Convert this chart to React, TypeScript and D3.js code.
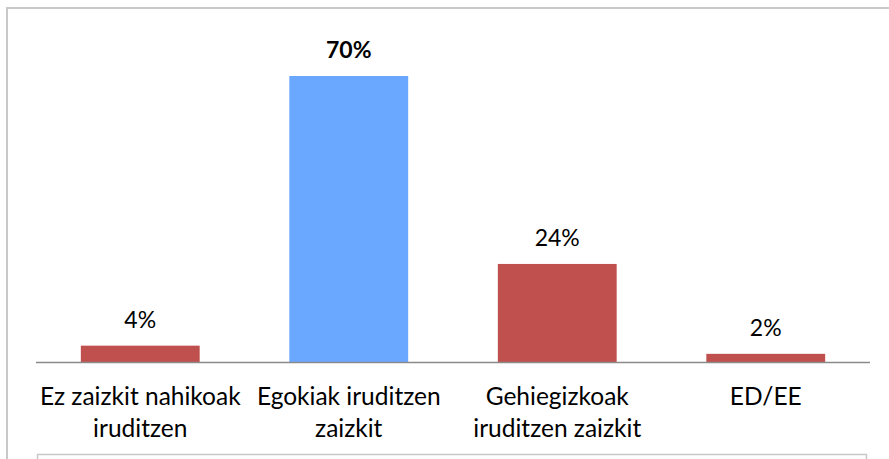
import React from "react";
import * as d3 from "d3";

const categories: string[][] = [
  ["Ez zaizkit nahikoak", "iruditzen"],
  ["Egokiak iruditzen", "zaizkit"],
  ["Gehiegizkoak", "iruditzen zaizkit"],
  ["ED/EE"],
];
const values: number[] = [4, 70, 24, 2];
const valueLabels: string[] = ["4%", "70%", "24%", "2%"];
const highlight: boolean[] = [false, true, false, false];

const W = 889;
const H = 459;
const FONT = "Lato, 'Open Sans', sans-serif";

export default function App() {
  const x = d3
    .scaleBand<number>()
    .domain(values.map((_, i) => i))
    .range([36, 870])
    .paddingInner(0.43)
    .paddingOuter(0.215);
  const y = d3.scaleLinear().domain([0, 70]).range([362, 76]);

  return (
    <svg
      width={W}
      height={H}
      style={{ position: "absolute", left: 0, top: 0, background: "#fff" }}
    >
      <rect x={0} y={0} width={W} height={H} fill="#fff" />
      {/* outer border */}
      <line x1={7} y1={8} x2={W} y2={8} stroke="#c8c8c8" strokeWidth={2} />
      <line x1={7} y1={7} x2={7} y2={H} stroke="#c8c8c8" strokeWidth={2} />
      {/* lower box */}
      <path
        d={`M37.5,${H} V454.5 H866.5 V${H}`}
        fill="none"
        stroke="#c8c8c8"
        strokeWidth={1.5}
      />
      {values.map((v, i) => {
        const bx = x(i)!;
        const bw = x.bandwidth();
        const top = y(v);
        return (
          <g key={i}>
            <rect
              x={bx}
              y={top}
              width={bw}
              height={y(0) - top}
              fill={highlight[i] ? "#6aa7ff" : "#c0504d"}
            />
            <text
              x={bx + bw / 2}
              y={top - 18}
              textAnchor="middle"
              fontFamily={FONT}
              fontSize={23}
              fontWeight={highlight[i] ? 700 : 400}
              fill="#000"
            >
              {valueLabels[i]}
            </text>
            {categories[i].map((line, j) => (
              <text
                key={j}
                x={bx + bw / 2}
                y={405 + j * 32}
                textAnchor="middle"
                fontFamily={FONT}
                fontSize={24.5}
                fill="#000"
              >
                {line}
              </text>
            ))}
          </g>
        );
      })}
      <line x1={36} y1={362.5} x2={870} y2={362.5} stroke="#8a8a8a" strokeWidth={1.5} />
    </svg>
  );
}
